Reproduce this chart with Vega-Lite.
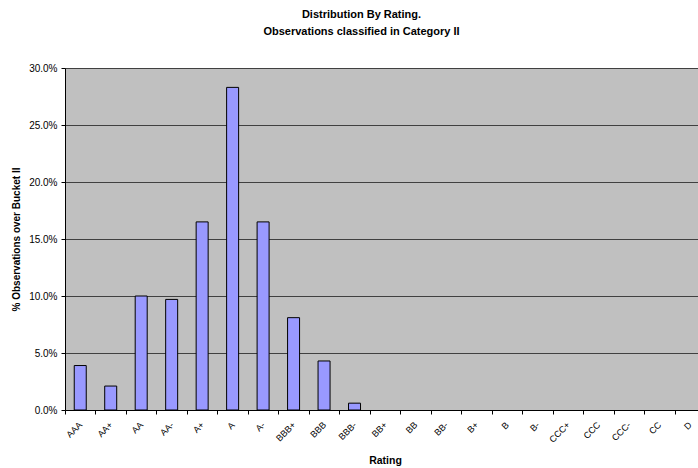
{
  "$schema": "https://vega.github.io/schema/vega-lite/v6.json",
  "autosize": {"type": "none"},
  "width": 633,
  "height": 342,
  "padding": {"left": 65, "top": 68, "right": 0, "bottom": 58},
  "background": "#ffffff",
  "title": {
    "text": ["Distribution By Rating.", "Observations classified in Category II"],
    "anchor": "middle",
    "frame": "group",
    "font": "Liberation Sans",
    "fontSize": 11,
    "fontWeight": "bold",
    "color": "#000000",
    "lineHeight": 17,
    "offset": 26,
    "dx": -20
  },
  "config": {
    "view": {"fill": "#C0C0C0", "stroke": null},
    "axis": {"labelFont": "Liberation Sans", "titleFont": "Liberation Sans", "labelColor": "#000000", "titleColor": "#000000"}
  },
  "data": {
    "values": [
      {"rating": "AAA", "pct": 0.039},
      {"rating": "AA+", "pct": 0.021},
      {"rating": "AA", "pct": 0.100},
      {"rating": "AA-", "pct": 0.097},
      {"rating": "A+", "pct": 0.165},
      {"rating": "A", "pct": 0.283},
      {"rating": "A-", "pct": 0.165},
      {"rating": "BBB+", "pct": 0.081},
      {"rating": "BBB", "pct": 0.043},
      {"rating": "BBB-", "pct": 0.006},
      {"rating": "BB+", "pct": 0},
      {"rating": "BB", "pct": 0},
      {"rating": "BB-", "pct": 0},
      {"rating": "B+", "pct": 0},
      {"rating": "B", "pct": 0},
      {"rating": "B-", "pct": 0},
      {"rating": "CCC+", "pct": 0},
      {"rating": "CCC", "pct": 0},
      {"rating": "CCC-", "pct": 0},
      {"rating": "CC", "pct": 0},
      {"rating": "D", "pct": 0}
    ]
  },
  "mark": {"type": "bar", "size": 12, "fill": "#9999FF", "stroke": "#000000", "strokeWidth": 1},
  "encoding": {
    "strokeOpacity": {"condition": {"test": "datum.pct > 0", "value": 1}, "value": 0},
    "x": {
      "field": "rating",
      "type": "nominal",
      "sort": null,
      "scale": {"range": [0, 640], "paddingInner": 0, "paddingOuter": 0},
      "axis": {
        "title": "Rating",
        "titleFontSize": 10.5,
        "titleFontWeight": "bold",
        "titleX": 320,
        "titleY": 53,
        "titleBaseline": "alphabetic",
        "titleAnchor": "middle",
        "labelAngle": -45,
        "labelAlign": "right",
        "labelBaseline": "middle",
        "labelFontSize": 9,
        "labelPadding": 9,
        "labelOverlap": false,
        "tickBand": "extent",
        "tickSize": 4,
        "tickColor": "#000000",
        "domainColor": "#000000",
        "grid": false
      }
    },
    "y": {
      "field": "pct",
      "type": "quantitative",
      "scale": {"domain": [0, 0.3], "nice": false},
      "axis": {
        "title": "% Observations over Bucket II",
        "titleFontSize": 10,
        "titleFontWeight": "bold",
        "titleX": -49,
        "titleY": 171,
        "titleAngle": -90,
        "titleBaseline": "middle",
        "titleAlign": "center",
        "values": [0, 0.05, 0.1, 0.15, 0.2, 0.25, 0.3],
        "format": ".1%",
        "labelFontSize": 10,
        "labelPadding": 4,
        "tickSize": 4,
        "tickColor": "#000000",
        "domainColor": "#000000",
        "grid": true,
        "gridColor": "#404040",
        "gridOpacity": 1,
        "gridWidth": 1
      }
    }
  }
}
